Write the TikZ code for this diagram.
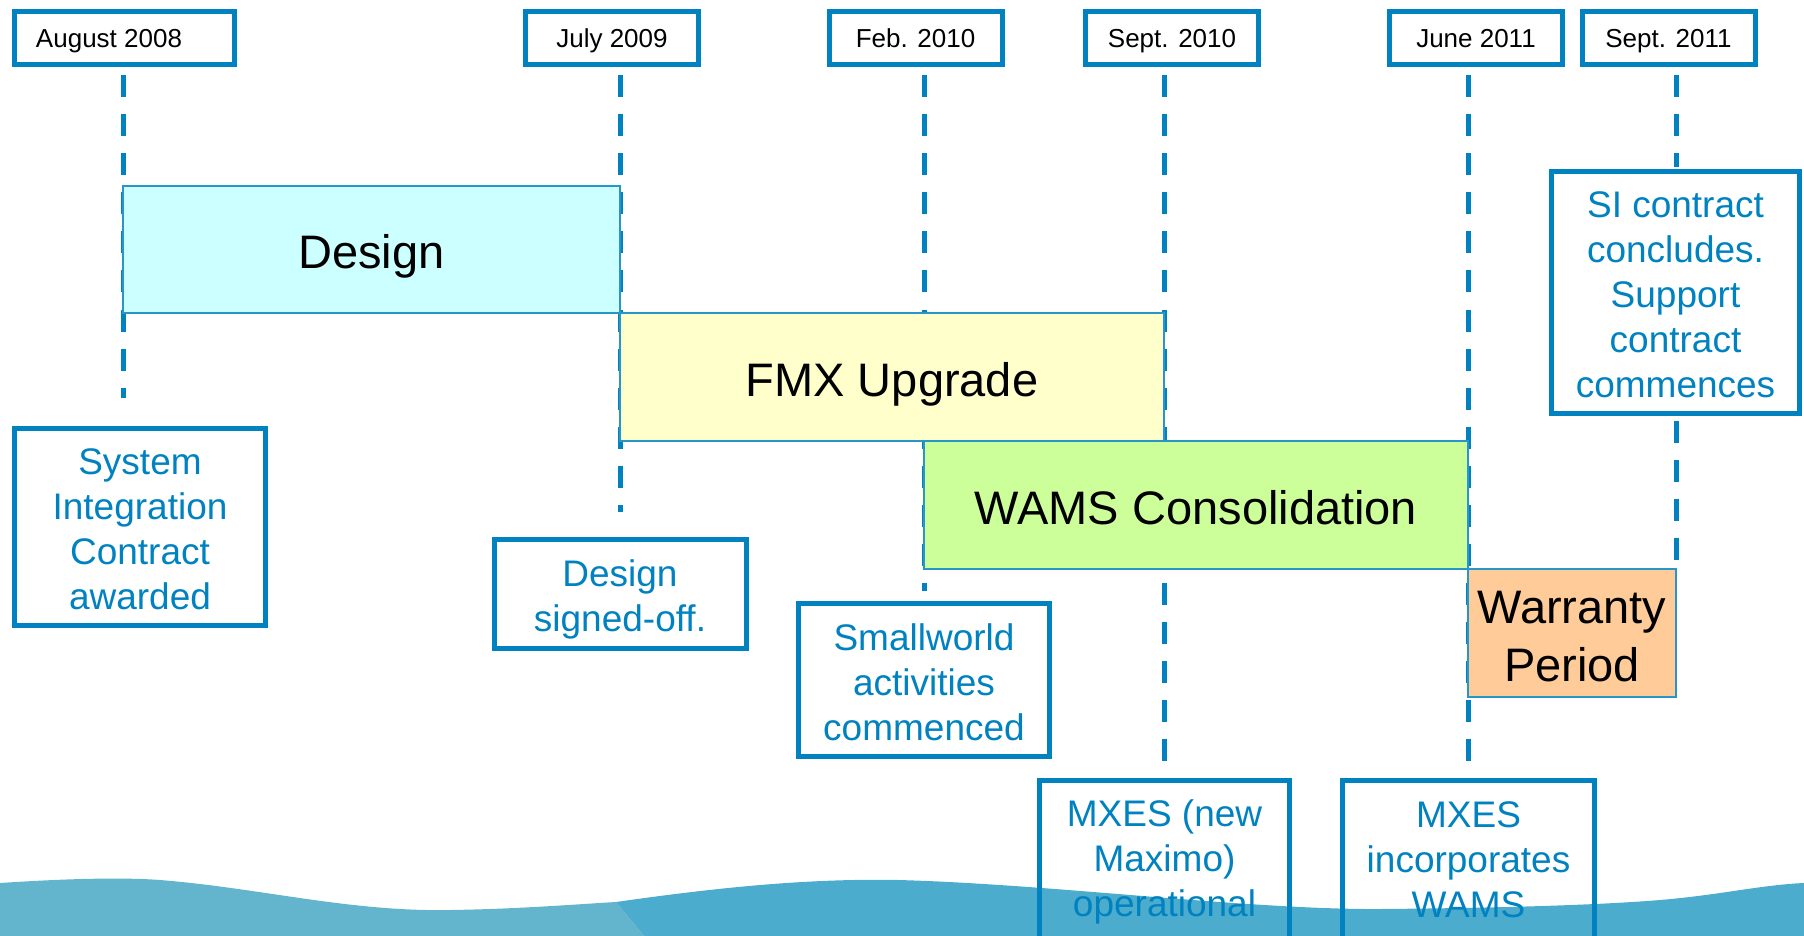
\documentclass[tikz,border=0pt]{standalone}
\usepackage{fontspec}
\setmainfont{Liberation Sans}
\definecolor{lblue}{RGB}{0,130,192}
\definecolor{barline}{RGB}{40,150,200}
\definecolor{wavelight}{RGB}{99,181,206}
\definecolor{wavedark}{RGB}{75,172,205}
\definecolor{designfill}{RGB}{204,255,255}
\definecolor{fmxfill}{RGB}{255,255,204}
\definecolor{wamsfill}{RGB}{204,255,153}
\definecolor{warrfill}{RGB}{255,204,153}
\begin{document}
\begin{tikzpicture}[x=0.5pt,y=-0.5pt,
  datebox/.style={draw=lblue, line width=2.5pt, minimum width=86.5pt, minimum height=26.5pt, inner sep=0pt, text height=9.4pt, text depth=0pt, font=\fontsize{13}{15}\selectfont},
  bar/.style={draw=barline, line width=0.7pt, inner sep=0pt, align=center, font=\fontsize{23.5}{29}\selectfont},
  onebar/.style={bar, text height=19pt, text depth=0pt},
  callout/.style={draw=lblue, line width=2.5pt, inner sep=0pt},
  ctext/.style={text=lblue, align=center, inner sep=0pt, font=\fontsize{18.5}{22.5}\selectfont},
  dline/.style={draw=lblue, line width=2.5pt, dash pattern=on 11pt off 8.5pt}]
\useasboundingbox (0,0) rectangle (1804,936);
% wave
\fill[wavelight] (0,936) -- (0,883) .. controls (60,879) and (120,877) .. (160,880) .. controls (260,888) and (350,912) .. (450,910) .. controls (520,909) and (580,904) .. (616,902) -- (644,936) -- cycle;
\fill[wavedark] (616,902) .. controls (700,890) and (800,878) .. (898,880) .. controls (1050,884) and (1250,910) .. (1381,909) .. controls (1500,908) and (1600,905) .. (1660,900) .. controls (1720,895) and (1760,885) .. (1804,883) -- (1804,936) -- (644,936) -- cycle;
% date boxes
\node[datebox, minimum width=110pt] (d1) at (124,38) {August 2008\kern15pt};
\node[datebox] (d2) at (612,38) {July 2009};
\node[datebox] (d3) at (915.5,38) {Feb. 2010};
\node[datebox] (d4) at (1172,38) {Sept. 2010};
\node[datebox] (d5) at (1476,38) {June 2011};
\node[datebox] (d6) at (1668.5,38) {Sept. 2011};
% vertical positions
\coordinate (x1) at (123,0);
\coordinate (x2) at (620,0);
\coordinate (x3) at (924,0);
\coordinate (x4) at (1164,0);
\coordinate (x5) at (1468,0);
\coordinate (x6) at (1676,0);
% callouts
\node[callout, minimum width=125.5pt, minimum height=98.5pt, label={[ctext, yshift=-1.2pt]center:{System\\Integration\\Contract\\awarded}}] (c1) at (140,527) {};
\node[callout, minimum width=126pt, minimum height=54.5pt, label={[ctext, yshift=-2.9pt]center:{Design\\signed-off.}}] (c2) at (620,594) {};
\node[callout, minimum width=125.5pt, minimum height=76.5pt, label={[ctext, yshift=-1.2pt]center:{Smallworld\\activities\\commenced}}] (c3) at (924,680) {};
\node[callout, minimum width=125pt, minimum height=81pt, label={[ctext, yshift=-0.6pt]center:{MXES (new\\Maximo)\\operational}}] (c4) at (1164.5,861) {};
\node[callout, minimum width=126pt, minimum height=81pt, label={[ctext, yshift=0.6pt]center:{MXES\\incorporates\\WAMS}}] (c5) at (1468.5,861) {};
\node[callout, minimum width=124pt, minimum height=121pt, label={[ctext, yshift=-1.2pt]center:{SI contract\\concludes.\\Support\\contract\\commences}}] (c6) at (1675.5,292.5) {};
% dashed connectors
\draw[dline, shorten <=4.25pt, shorten >=14pt] (d1.south -| x1) -- (c1.north -| x1);
\draw[dline, shorten <=4.25pt, shorten >=12.75pt] (d2.south -| x2) -- (c2.north -| x2);
\draw[dline, shorten <=4.25pt, shorten >=5.25pt] (d3.south -| x3) -- (c3.north -| x3);
\draw[dline, shorten <=4.25pt, shorten >=1.5pt] (d4.south -| x4) -- (c4.north -| x4);
\draw[dline, shorten <=4.25pt, shorten >=1.5pt] (d5.south -| x5) -- (c5.north -| x5);
\draw[dline, shorten <=4.25pt, shorten >=1pt] (d6.south -| x6) -- (c6.north -| x6);
\coordinate (wtop) at (1676,567);
\draw[dline, shorten <=2.25pt, shorten >=2pt] (c6.south -| x6) -- (wtop);
% bars
\node[onebar, fill=designfill, minimum width=248.5pt, minimum height=63.5pt] (design) at (371.5,249.5) {Design};
\node[onebar, fill=fmxfill, minimum width=272pt, minimum height=64pt] (fmx) at (892,377) {FMX Upgrade};
\node[onebar, fill=wamsfill, minimum width=272pt, minimum height=64pt] (wams) at (1196,505) {WAMS Consolidation};
\node[bar, fill=warrfill, minimum width=104pt, minimum height=64pt, label={[bar, draw=none, yshift=-1.7pt]center:{Warranty\\Period}}] (warranty) at (1572,633) {};
\end{tikzpicture}
\end{document}
